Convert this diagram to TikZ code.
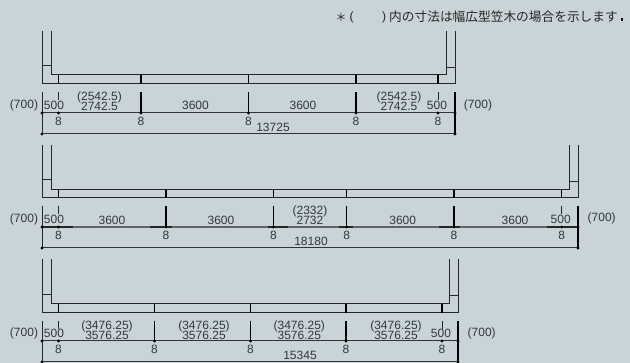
\documentclass[tikz,border=0pt]{standalone}
\usepackage{fontspec}
\setmainfont{Liberation Sans}
\newfontfamily\cjkfont{Noto Sans CJK JP}
\definecolor{bgc}{RGB}{201,212,217}
\definecolor{txtc}{RGB}{50,55,58}
\definecolor{grayline}{RGB}{95,100,103}
\tikzset{
  wall/.style={draw=black!85,line width=1pt},
  post/.style={draw=black,line width=1.3pt},
  tick/.style={draw=black,line width=1.3pt},
  thintick/.style={draw=black!85,line width=0.9pt},
  dim/.style={draw=black!80,line width=1pt},
  graydim/.style={draw=grayline,line width=1.3pt},
  darkdim/.style={draw=black!85,line width=1.5pt},
  lab/.style={inner sep=0pt,text=txtc,font=\fontsize{12}{12}\selectfont},
  dot/.style={circle,fill=black,inner sep=0pt,minimum size=3.4pt},
}
\newcommand{\frameplan}[9]{%
  \draw[wall] (42,#4) -- (42,#8) -- (#3,#8) -- (#3,#4);
  \draw[wall] (51,#4) -- (51,#7) -- (#2,#7) -- (#2,#4);
  \draw[wall] (42,#5) -- (51,#5);
  \draw[wall] (#2,#6) -- (#3,#6);
  \draw[thintick] (42,#9) -- ++(0,42);
  \draw[tick] (#3,#9) -- ++(0,42);
}
\newcommand{\postmark}[5]{% x, inner y, outer y, tick top, main y
  \draw[post] (#1,#2) -- (#1,#3);
  \draw[tick] (#1,#4) -- (#1,#5);
  \node[dot] at (#1,#5) {};
  \node[lab] at (#1,#5+8) {8};
}
\newcommand{\shortpost}[5]{% x, inner y, outer y, tick top, main y
  \draw[post] (#1,#2) -- (#1,#3);
  \draw[thintick] (#1,#4) -- (#1,#4+8);
  \node[dot] at (#1,#5) {};
  \node[lab] at (#1,#5+8) {8};
}
\begin{document}
\begin{tikzpicture}[x=1pt,y=-1pt]
\fill[bgc] (0,0) rectangle (630,363);
\useasboundingbox (0,0) rectangle (630,363);

% note
\node[inner sep=0pt,text=black!85,font=\cjkfont\fontsize{11}{12}\selectfont] (n0) at (341,17) {＊};
\node[lab,text=black!85] (n1) at (351.5,17) {(};
\node[lab,text=black!85] (n2) at (384,17) {)};
\node[anchor=west,inner sep=0pt,text=black!85,font=\cjkfont\fontsize{12.7}{13}\selectfont] (n3) at (389,17) {内の寸法は幅広型笠木の場合を示します};
\fill[black] (620.5,18.5) rectangle (623,21);

% ---------- plan 1
\frameplan{42}{446}{455}{31}{66}{68}{75}{84}{92}
\draw[dim] (42,113) -- (455,113);
\draw[dim] (42,134) -- (455,134);
\node[dot] at (42,113) {}; \node[dot] at (455,113) {};
\node[dot] at (42,134) {}; \node[dot] at (455,134) {};
\shortpost{58.5}{75}{84}{92}{113}
\postmark{141}{75}{84}{92}{113}
\postmark{248.5}{75}{84}{92}{113}
\postmark{356}{75}{84}{92}{113}
\shortpost{438}{75}{84}{92}{113}
\node[lab] (a1) at (24,105) {(700)};
\node[lab] (a2) at (54,105) {500};
\node[lab] (a3) at (99.5,97.5) {(2542.5)};
\node[lab] (a4) at (99.5,106.5) {2742.5};
\node[lab] (a5) at (195.5,105.5) {3600};
\node[lab] (a6) at (303,105.5) {3600};
\node[lab] (a7) at (399,97.5) {(2542.5)};
\node[lab] (a8) at (399,106.5) {2742.5};
\node[lab] (a9) at (437,105) {500};
\node[lab] (a10) at (478,105) {(700)};
\node[lab] (a11) at (273,127.5) {13725};

% ---------- plan 2
\frameplan{42}{569}{578}{145}{180}{182}{190}{198}{206}
\draw[graydim] (42,227) -- (578,227);
\draw[dim] (42,248) -- (578,248);
\foreach \a/\b in {42/73,150/172,268/288,339/353,439/460,547/578}
  \draw[darkdim] (\a,227) -- (\b,227);
\node[dot] at (42,227) {}; \node[dot] at (578,227) {};
\node[dot] at (42,248) {}; \node[dot] at (578,248) {};
\shortpost{58.5}{190}{198}{206}{227}
\postmark{166}{190}{198}{206}{227}
\postmark{273.5}{190}{198}{206}{227}
\postmark{346.7}{190}{198}{206}{227}
\postmark{454}{190}{198}{206}{227}
\shortpost{561.7}{190}{198}{206}{227}
\node[lab] (b1) at (24,219) {(700)};
\node[lab] (b2) at (54,219) {500};
\node[lab] (b3) at (112,220) {3600};
\node[lab] (b4) at (221,220) {3600};
\node[lab] (b5) at (310,211.5) {(2332)};
\node[lab] (b6) at (310,220.5) {2732};
\node[lab] (b7) at (402.7,220) {3600};
\node[lab] (b8) at (515,220) {3600};
\node[lab] (b9) at (560.7,219) {500};
\node[lab] (b10) at (601.7,218.5) {(700)};
\node[lab] (b11) at (311,241.5) {18180};

% ---------- plan 3
\frameplan{42}{449}{458}{259}{295}{296}{304}{313}{321}
\draw[dim] (42,341) -- (458,341);
\draw[dim] (42,362) -- (458,362);
\node[dot] at (42,341) {}; \node[dot] at (458,341) {};
\node[dot] at (42,362) {}; \node[dot] at (458,362) {};
\shortpost{58.5}{304}{313}{321}{341}
\postmark{154.5}{304}{313}{321}{341}
\postmark{250.5}{304}{313}{321}{341}
\postmark{346}{304}{313}{321}{341}
\shortpost{442}{304}{313}{321}{341}
\node[lab] (c1) at (24,333.5) {(700)};
\node[lab] (c2) at (54,333.5) {500};
\foreach \x/\k in {107/1,204/2,299.3/3,396/4}{
  \node[lab] (cu\k) at (\x,326) {(3476.25)};
  \node[lab] (cl\k) at (\x,335) {3576.25};
}
\node[lab] (c9) at (441,333.5) {500};
\node[lab] (c10) at (481.7,333.5) {(700)};
\node[lab] (c11) at (300,355) {15345};
\end{tikzpicture}
\end{document}
